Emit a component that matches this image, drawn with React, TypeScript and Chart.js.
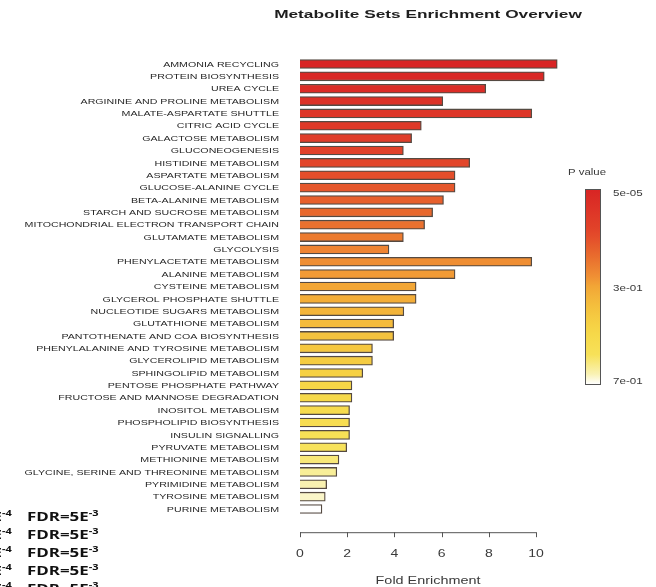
import { useEffect, useRef } from "react";
import { Chart, registerables } from "chart.js";
Chart.register(...registerables);

const categories = [
  "AMMONIA RECYCLING",
  "PROTEIN BIOSYNTHESIS",
  "UREA CYCLE",
  "ARGININE AND PROLINE METABOLISM",
  "MALATE-ASPARTATE SHUTTLE",
  "CITRIC ACID CYCLE",
  "GALACTOSE METABOLISM",
  "GLUCONEOGENESIS",
  "HISTIDINE METABOLISM",
  "ASPARTATE METABOLISM",
  "GLUCOSE-ALANINE CYCLE",
  "BETA-ALANINE METABOLISM",
  "STARCH AND SUCROSE METABOLISM",
  "MITOCHONDRIAL ELECTRON TRANSPORT CHAIN",
  "GLUTAMATE METABOLISM",
  "GLYCOLYSIS",
  "PHENYLACETATE METABOLISM",
  "ALANINE METABOLISM",
  "CYSTEINE METABOLISM",
  "GLYCEROL PHOSPHATE SHUTTLE",
  "NUCLEOTIDE SUGARS METABOLISM",
  "GLUTATHIONE METABOLISM",
  "PANTOTHENATE AND COA BIOSYNTHESIS",
  "PHENYLALANINE AND TYROSINE METABOLISM",
  "GLYCEROLIPID METABOLISM",
  "SPHINGOLIPID METABOLISM",
  "PENTOSE PHOSPHATE PATHWAY",
  "FRUCTOSE AND MANNOSE DEGRADATION",
  "INOSITOL METABOLISM",
  "PHOSPHOLIPID BIOSYNTHESIS",
  "INSULIN SIGNALLING",
  "PYRUVATE METABOLISM",
  "METHIONINE METABOLISM",
  "GLYCINE, SERINE AND THREONINE METABOLISM",
  "PYRIMIDINE METABOLISM",
  "TYROSINE METABOLISM",
  "PURINE METABOLISM",
];

const foldEnrichment = [
  10.9, 10.35, 7.87, 6.05, 9.82, 5.14, 4.73, 4.38, 7.19, 6.57, 6.57, 6.08,
  5.62, 5.28, 4.38, 3.77, 9.82, 6.57, 4.92, 4.92, 4.4, 3.97, 3.97, 3.07, 3.07,
  2.66, 2.2, 2.2, 2.1, 2.1, 2.1, 1.98, 1.65, 1.56, 1.13, 1.07, 0.93,
];

const xTicks = [0, 2, 4, 6, 8, 10];
const titleText = "Metabolite Sets Enrichment Overview";
const xTitle = "Fold Enrichment";
const legendTitle = "P value";
const legendLabels = ["5e-05", "3e-01", "7e-01"];
const fdrRows = ["FDR=5E", "FDR=5E", "FDR=5E", "FDR=5E", "FDR=5E"];

const paletteStops: [number, number[]][] = [
  [0, [216, 36, 36]],
  [0.22, [226, 69, 42]],
  [0.33, [232, 103, 45]],
  [0.44, [239, 140, 51]],
  [0.5, [242, 166, 54]],
  [0.61, [244, 194, 62]],
  [0.72, [246, 214, 70]],
  [0.86, [247, 226, 90]],
  [0.917, [248, 238, 152]],
  [0.972, [250, 245, 200]],
  [1, [255, 255, 255]],
];

function palette(t: number): string {
  for (let i = 1; i < paletteStops.length; i++) {
    const [t1, c1] = paletteStops[i];
    const [t0, c0] = paletteStops[i - 1];
    if (t <= t1) {
      const f = (t - t0) / (t1 - t0 || 1);
      const c = c0.map((v, k) => Math.round(v + (c1[k] - v) * f));
      return `rgb(${c[0]},${c[1]},${c[2]})`;
    }
  }
  return "rgb(255,255,255)";
}

function stretchText(
  ctx: CanvasRenderingContext2D,
  text: string,
  x: number,
  y: number,
  font: string,
  sx: number,
  align: CanvasTextAlign,
  color: string
) {
  ctx.save();
  ctx.translate(x, y);
  ctx.scale(sx, 1);
  ctx.font = font;
  ctx.fillStyle = color;
  ctx.textAlign = align;
  ctx.textBaseline = "middle";
  ctx.fillText(text, 0, 0);
  ctx.restore();
}

const SANS = "'Liberation Sans', Arial, Helvetica, sans-serif";

const decorPlugin = {
  id: "decor",
  afterDraw(chart: any) {
    const ctx: CanvasRenderingContext2D = chart.ctx;
    const xs = chart.scales.x;
    const ys = chart.scales.y;
    const area = chart.chartArea;
    const labelFont = `8px ${SANS}`;
    // y labels
    categories.forEach((c, i) => {
      stretchText(ctx, c, area.left - 21, ys.getPixelForValue(i) + 0.5, labelFont, 1.33, "right", "#262626");
    });
    // x axis
    const axisY = area.bottom + 17;
    ctx.save();
    ctx.strokeStyle = "#555";
    ctx.lineWidth = 1;
    ctx.beginPath();
    ctx.moveTo(xs.getPixelForValue(xTicks[0]), axisY + 0.5);
    ctx.lineTo(xs.getPixelForValue(xTicks[xTicks.length - 1]), axisY + 0.5);
    xTicks.forEach((t) => {
      const px = Math.round(xs.getPixelForValue(t)) + 0.5;
      ctx.moveTo(px, axisY);
      ctx.lineTo(px, axisY + 5);
    });
    ctx.stroke();
    ctx.restore();
    xTicks.forEach((t) => {
      stretchText(ctx, String(t), xs.getPixelForValue(t), axisY + 22, `10px ${SANS}`, 1.4, "center", "#3a3a3a");
    });
    const midX = (area.left + area.right) / 2 + 10;
    stretchText(ctx, xTitle, midX, axisY + 49, `10px ${SANS}`, 1.44, "center", "#3a3a3a");
    // title
    stretchText(ctx, titleText, midX, 15, `bold 11.5px ${SANS}`, 1.5, "center", "#1e1e1e");
    // colour bar legend
    const lx = 585, ly = 189, lw = 15, lh = 195;
    const g = ctx.createLinearGradient(0, ly, 0, ly + lh);
    for (let k = 0; k <= 20; k++) g.addColorStop(k / 20, palette(k / 20));
    ctx.save();
    ctx.fillStyle = g;
    ctx.fillRect(lx, ly, lw, lh);
    ctx.strokeStyle = "#555";
    ctx.lineWidth = 1;
    ctx.strokeRect(lx + 0.5, ly + 0.5, lw, lh);
    ctx.restore();
    const legFont = `9.5px ${SANS}`;
    stretchText(ctx, legendTitle, 568, 172, legFont, 1.2, "left", "#3a3a3a");
    const legY = [193, 288, 381];
    legendLabels.forEach((l, i) => {
      stretchText(ctx, l, 613, legY[i], legFont, 1.22, "left", "#3a3a3a");
    });
  },
};

export default function App() {
  const ref = useRef<HTMLCanvasElement>(null);
  useEffect(() => {
    document.body.style.margin = "0";
    const n = foldEnrichment.length;
    const colors = foldEnrichment.map((_, i) => palette(i / (n - 1)));
    const chart = new Chart(ref.current!, {
      type: "bar",
      data: {
        labels: categories,
        datasets: [
          {
            data: foldEnrichment,
            backgroundColor: colors,
            borderColor: "#554a42",
            borderWidth: 1.3,
            barThickness: 9,
            clip: false as any,
          } as any,
        ],
      },
      options: {
        indexAxis: "y",
        responsive: false,
        animation: false,
        layout: { padding: { left: 300, right: 120, top: 57.8, bottom: 71.8 } },
        scales: {
          x: { type: "linear", min: 0, max: 10, display: false },
          y: { type: "category", display: false, offset: true },
        },
        plugins: {
          legend: { display: false },
          title: { display: false },
          tooltip: { enabled: false },
        },
      },
      plugins: [decorPlugin],
    });
    return () => chart.destroy();
  }, []);

  const rowCenters = [515.5, 534, 552, 570, 588];
  const textStyle = {
    position: "absolute" as const,
    fontFamily: "'Open Sans', 'Liberation Sans', sans-serif",
    fontWeight: 700,
    fontSize: 13,
    lineHeight: "16px",
    whiteSpace: "pre" as const,
    color: "#111",
  };
  const supStyle = { fontSize: 8.5, verticalAlign: 5, lineHeight: 0 };
  return (
    <div style={{ position: "relative", width: 656, height: 587, overflow: "hidden", background: "#fff" }}>
      <canvas ref={ref} width={656} height={587} style={{ position: "absolute", left: 0, top: 0 }} />
      {fdrRows.map((r, i) => (
        <div key={i}>
          <div
            style={{
              ...textStyle,
              right: 656 - 12,
              top: rowCenters[i] - 8,
              transform: "scaleX(1.3)",
              transformOrigin: "100% 50%",
            }}
          >
            E<sup style={supStyle}>-4</sup>
          </div>
          <div
            style={{
              ...textStyle,
              left: 27,
              top: rowCenters[i] - 8,
              transform: "scaleX(1.3)",
              transformOrigin: "0 50%",
            }}
          >
            {r}
            <sup style={supStyle}>-3</sup>
          </div>
        </div>
      ))}
    </div>
  );
}
